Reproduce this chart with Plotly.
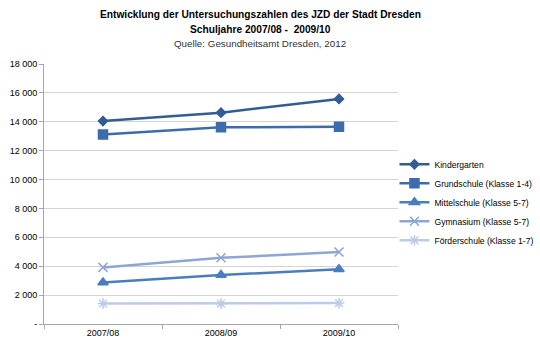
import plotly.graph_objects as go

categories = ["2007/08", "2008/09", "2009/10"]
kindergarten = [14050, 14630, 15580]
grundschule = [13120, 13620, 13650]
mittelschule = [2880, 3390, 3790]
gymnasium = [3920, 4580, 4980]
foerderschule = [1420, 1410, 1450]

names = ["Kindergarten", "Grundschule (Klasse 1-4)", "Mittelschule (Klasse 5-7)",
         "Gymnasium (Klasse 5-7)", "Förderschule (Klasse 1-7)"]
series = [kindergarten, grundschule, mittelschule, gymnasium, foerderschule]
colors = ["#335C96", "#3D6CAA", "#4A7DC0", "#8FA6D3", "#BCCBE6"]
symbols = ["diamond", "square", "triangle-up", "x-thin-open", "asterisk-open"]
sizes = [7, 9, 9, 9, 9]

ytickvals = [0, 2000, 4000, 6000, 8000, 10000, 12000, 14000, 16000, 18000]
yticktext = ["-", "2 000", "4 000", "6 000", "8 000", "10 000", "12 000", "14 000", "16 000", "18 000"]

fig = go.Figure()
for n, s, c, sym, sz in zip(names, series, colors, symbols, sizes):
    fig.add_trace(go.Scatter(
        x=categories, y=s, name=n, mode="lines+markers",
        line=dict(color=c, width=2.5),
        marker=dict(symbol=sym, size=sz, color=c, line=dict(color=c, width=1.5)),
    ))

fig.update_layout(
    width=540, height=348,
    margin=dict(l=44, r=142, t=64, b=24, autoexpand=False),
    paper_bgcolor="white", plot_bgcolor="white",
    font=dict(family="Liberation Sans, Arial, sans-serif", size=9, color="#000000"),
    showlegend=True,
    legend=dict(x=0.99, y=0.67, xanchor="left", yanchor="top",
                font=dict(size=8.6), tracegroupgap=0, itemwidth=30,
                bgcolor="rgba(0,0,0,0)"),
    xaxis=dict(type="category", range=[-0.5, 2.5], showgrid=False, showline=True,
               linecolor="#A6A6A6", linewidth=1, ticks="outside", tickson="boundaries",
               ticklen=4, tickcolor="#A6A6A6", tickfont=dict(size=9)),
    yaxis=dict(range=[0, 18000], tickvals=ytickvals, ticktext=yticktext,
               showgrid=True, gridcolor="#D4D4D4", gridwidth=1,
               showline=True, linecolor="#A6A6A6", linewidth=1,
               ticks="outside", ticklen=4, tickcolor="#A6A6A6",
               zeroline=False, tickfont=dict(size=9)),
)

cx = (260 - 44) / 354
fig.add_annotation(text="<b>Entwicklung der Untersuchungszahlen des JZD der Stadt Dresden</b>",
                   xref="paper", yref="paper", x=cx, y=1, yshift=50,
                   xanchor="center", yanchor="middle", showarrow=False,
                   font=dict(size=10.2))
fig.add_annotation(text="<b>Schuljahre 2007/08 -  2009/10</b>",
                   xref="paper", yref="paper", x=cx, y=1, yshift=35,
                   xanchor="center", yanchor="middle", showarrow=False,
                   font=dict(size=10.2))
fig.add_annotation(text="Quelle: Gesundheitsamt Dresden, 2012",
                   xref="paper", yref="paper", x=cx, y=1, yshift=21,
                   xanchor="center", yanchor="middle", showarrow=False,
                   font=dict(size=9.8, color="#333333"))

fig.write_html("out.html")
